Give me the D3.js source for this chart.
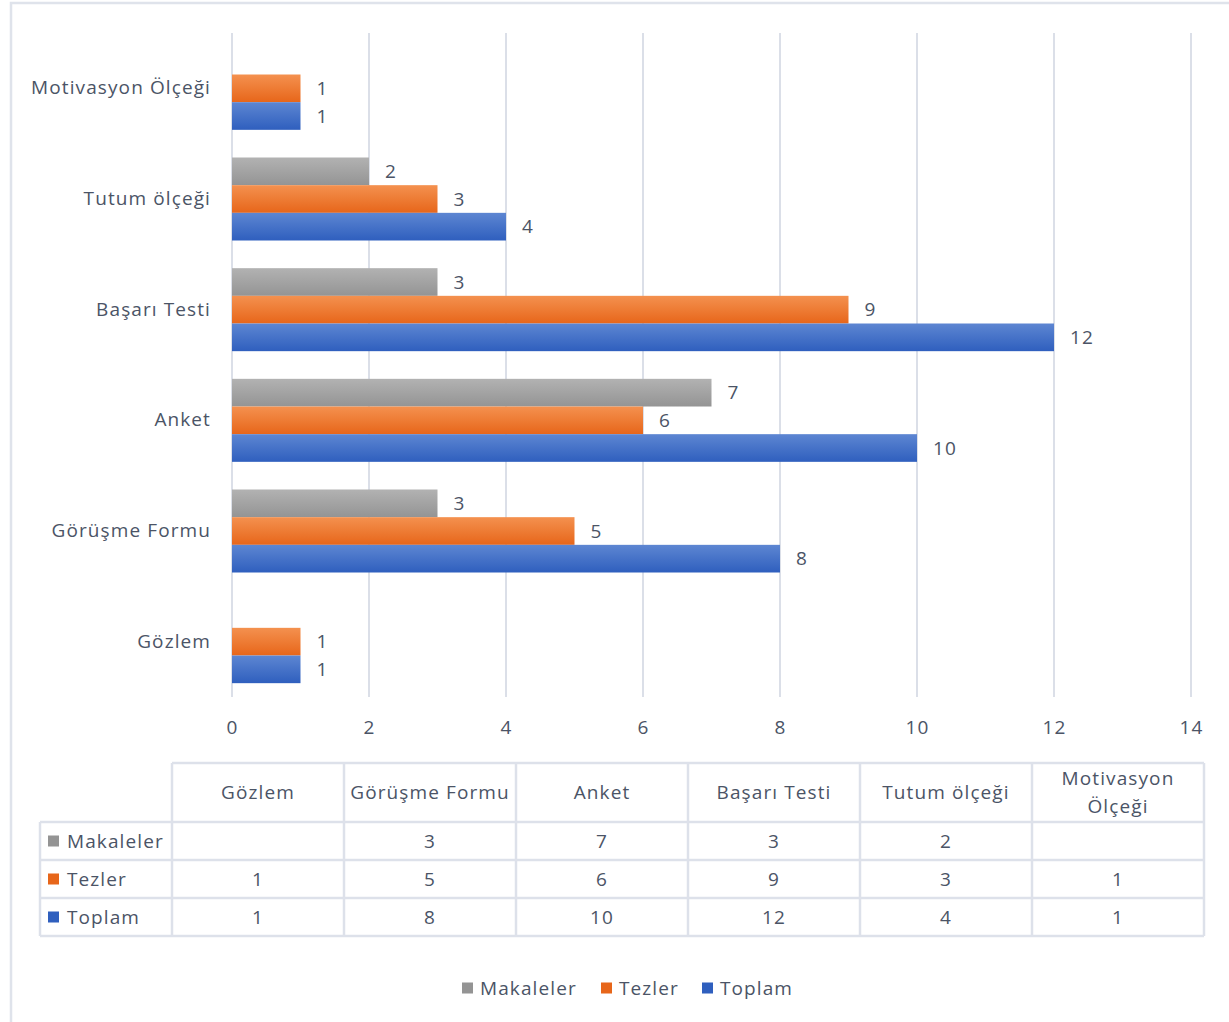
<!DOCTYPE html>
<html>
<head>
<meta charset="utf-8">
<script src="https://cdn.jsdelivr.net/npm/d3@7"></script>
<style>
  body { margin: 0; background: #fff; }
  svg text { font-family: "Open Sans", "Noto Sans", sans-serif; fill: #4b5466; letter-spacing: 1.1px; }
</style>
</head>
<body>
<svg id="chart"></svg>
<script>
// Data
const categories = ["Gözlem", "Görüşme Formu", "Anket", "Başarı Testi", "Tutum ölçeği", "Motivasyon Ölçeği"];
const seriesNames = ["Makaleler", "Tezler", "Toplam"];
const makaleler = [null, 3, 7, 3, 2, null];
const tezler = [1, 5, 6, 9, 3, 1];
const toplam = [1, 8, 10, 12, 4, 1];
const xTicks = [0, 2, 4, 6, 8, 10, 12, 14];

const seriesValues = [makaleler, tezler, toplam];
const colors = {
  Makaleler: ["#b2b2b2", "#949494"],
  Tezler: ["#f4914f", "#e7661a"],
  Toplam: ["#5d86d2", "#2f5fbe"]
};
const fontSize = "19px";

const W = 1229, H = 1022;
const svg = d3.select("#chart").attr("width", W).attr("height", H);

// gradients for the bars
const defs = svg.append("defs");
seriesNames.forEach(s => {
  const g = defs.append("linearGradient").attr("id", "grad-" + s)
    .attr("x1", 0).attr("y1", 0).attr("x2", 0).attr("y2", 1);
  g.append("stop").attr("offset", "0%").attr("stop-color", colors[s][0]);
  g.append("stop").attr("offset", "100%").attr("stop-color", colors[s][1]);
});

// outer frame
svg.append("rect")
  .attr("x", 11).attr("y", 3).attr("width", W + 20).attr("height", H + 20)
  .attr("fill", "none").attr("stroke", "#dfe3eb").attr("stroke-width", 2.5);

// plot area
const plot = { left: 232, right: 1191, top: 33, bottom: 697 };

const x = d3.scaleLinear().domain([0, 14]).range([plot.left, plot.right]);
const y = d3.scaleBand()
  .domain(categories.slice().reverse())
  .range([plot.top, plot.bottom])
  .paddingInner(0.25).paddingOuter(0.125);
const ySub = d3.scaleBand().domain(seriesNames).range([0, y.bandwidth()]);

// gridlines
svg.append("g").selectAll("line")
  .data(xTicks).join("line")
  .attr("x1", d => x(d)).attr("x2", d => x(d))
  .attr("y1", plot.top).attr("y2", plot.bottom)
  .attr("stroke", "#dbdfe8").attr("stroke-width", 2);

// x axis labels
const xAxis = svg.append("g")
  .attr("transform", `translate(0,${plot.bottom})`)
  .call(d3.axisBottom(x).tickValues(xTicks).tickSize(0).tickPadding(24));
xAxis.select(".domain").remove();
xAxis.selectAll("text").style("font-size", fontSize).attr("fill", "#4b5466");

// y axis labels
const yAxis = svg.append("g")
  .attr("transform", `translate(${plot.left},0)`)
  .call(d3.axisLeft(y).tickSize(0).tickPadding(21));
yAxis.select(".domain").remove();
yAxis.selectAll("text").style("font-size", fontSize).attr("fill", "#4b5466");

// bars
const rows = [];
categories.forEach((c, i) => {
  seriesNames.forEach((s, j) => {
    const v = seriesValues[j][i];
    if (v != null) rows.push({ cat: c, series: s, value: v });
  });
});

svg.append("g").selectAll("rect")
  .data(rows).join("rect")
  .attr("x", x(0))
  .attr("y", d => y(d.cat) + ySub(d.series))
  .attr("width", d => x(d.value) - x(0))
  .attr("height", ySub.bandwidth())
  .attr("fill", d => `url(#grad-${d.series})`);

svg.append("g").selectAll("text")
  .data(rows).join("text")
  .attr("x", d => x(d.value) + 16)
  .attr("y", d => y(d.cat) + ySub(d.series) + ySub.bandwidth() / 2)
  .attr("dy", "0.35em")
  .style("font-size", fontSize)
  .text(d => d.value);

// data table under the chart
const tbl = { left: 172, right: 1204, labelLeft: 40, top: 763, headBottom: 822, rowH: 38 };
const colX = d3.scaleBand().domain(categories).range([tbl.left, tbl.right]);
const rowY = d3.scaleBand().domain(seriesNames)
  .range([tbl.headBottom, tbl.headBottom + tbl.rowH * seriesNames.length]);
const tblBottom = tbl.headBottom + tbl.rowH * seriesNames.length;
const tg = svg.append("g");
const lineStyle = sel => sel.attr("stroke", "#dde1ea").attr("stroke-width", 2.5);

// horizontal lines
tg.append("line").attr("x1", tbl.left).attr("x2", tbl.right)
  .attr("y1", tbl.top).attr("y2", tbl.top).call(lineStyle);
seriesNames.concat(["_end"]).forEach((s, i) => {
  const yy = tbl.headBottom + i * tbl.rowH;
  tg.append("line").attr("x1", tbl.labelLeft).attr("x2", tbl.right)
    .attr("y1", yy).attr("y2", yy).call(lineStyle);
});
// vertical lines
tg.append("line").attr("x1", tbl.labelLeft).attr("x2", tbl.labelLeft)
  .attr("y1", tbl.headBottom).attr("y2", tblBottom).call(lineStyle);
categories.concat(["_end"]).forEach((c, i) => {
  const xx = tbl.left + i * colX.bandwidth();
  tg.append("line").attr("x1", xx).attr("x2", xx)
    .attr("y1", tbl.top).attr("y2", tblBottom).call(lineStyle);
});

// header texts (long name wraps to two lines like the original)
categories.forEach(c => {
  const cx = colX(c) + colX.bandwidth() / 2;
  const cy = (tbl.top + tbl.headBottom) / 2;
  const words = c === "Motivasyon Ölçeği" ? ["Motivasyon", "Ölçeği"] : [c];
  const t = tg.append("text").attr("x", cx).attr("text-anchor", "middle")
    .style("font-size", fontSize);
  words.forEach((w, k) => {
    t.append("tspan").attr("x", cx)
      .attr("y", cy + (k - (words.length - 1) / 2) * 28)
      .attr("dy", "0.35em").text(w);
  });
});

// row labels and values
seriesNames.forEach((s, j) => {
  const cy = rowY(s) + rowY.bandwidth() / 2;
  tg.append("rect").attr("x", 48).attr("y", cy - 5.5).attr("width", 11).attr("height", 11)
    .attr("fill", colors[s][1]);
  tg.append("text").attr("x", 67).attr("y", cy).attr("dy", "0.35em")
    .style("font-size", fontSize).text(s);
  categories.forEach((c, i) => {
    const v = seriesValues[j][i];
    if (v == null) return;
    tg.append("text").attr("x", colX(c) + colX.bandwidth() / 2).attr("y", cy)
      .attr("dy", "0.35em").attr("text-anchor", "middle")
      .style("font-size", fontSize).text(v);
  });
});

// legend
const legendX = { Makaleler: 462, Tezler: 601, Toplam: 702 };
const lg = svg.append("g").attr("transform", "translate(0,988)");
seriesNames.forEach(s => {
  lg.append("rect").attr("x", legendX[s]).attr("y", -5.5).attr("width", 11).attr("height", 11)
    .attr("fill", colors[s][1]);
  lg.append("text").attr("x", legendX[s] + 18).attr("y", 0).attr("dy", "0.35em")
    .style("font-size", fontSize).text(s);
});
</script>
</body>
</html>
